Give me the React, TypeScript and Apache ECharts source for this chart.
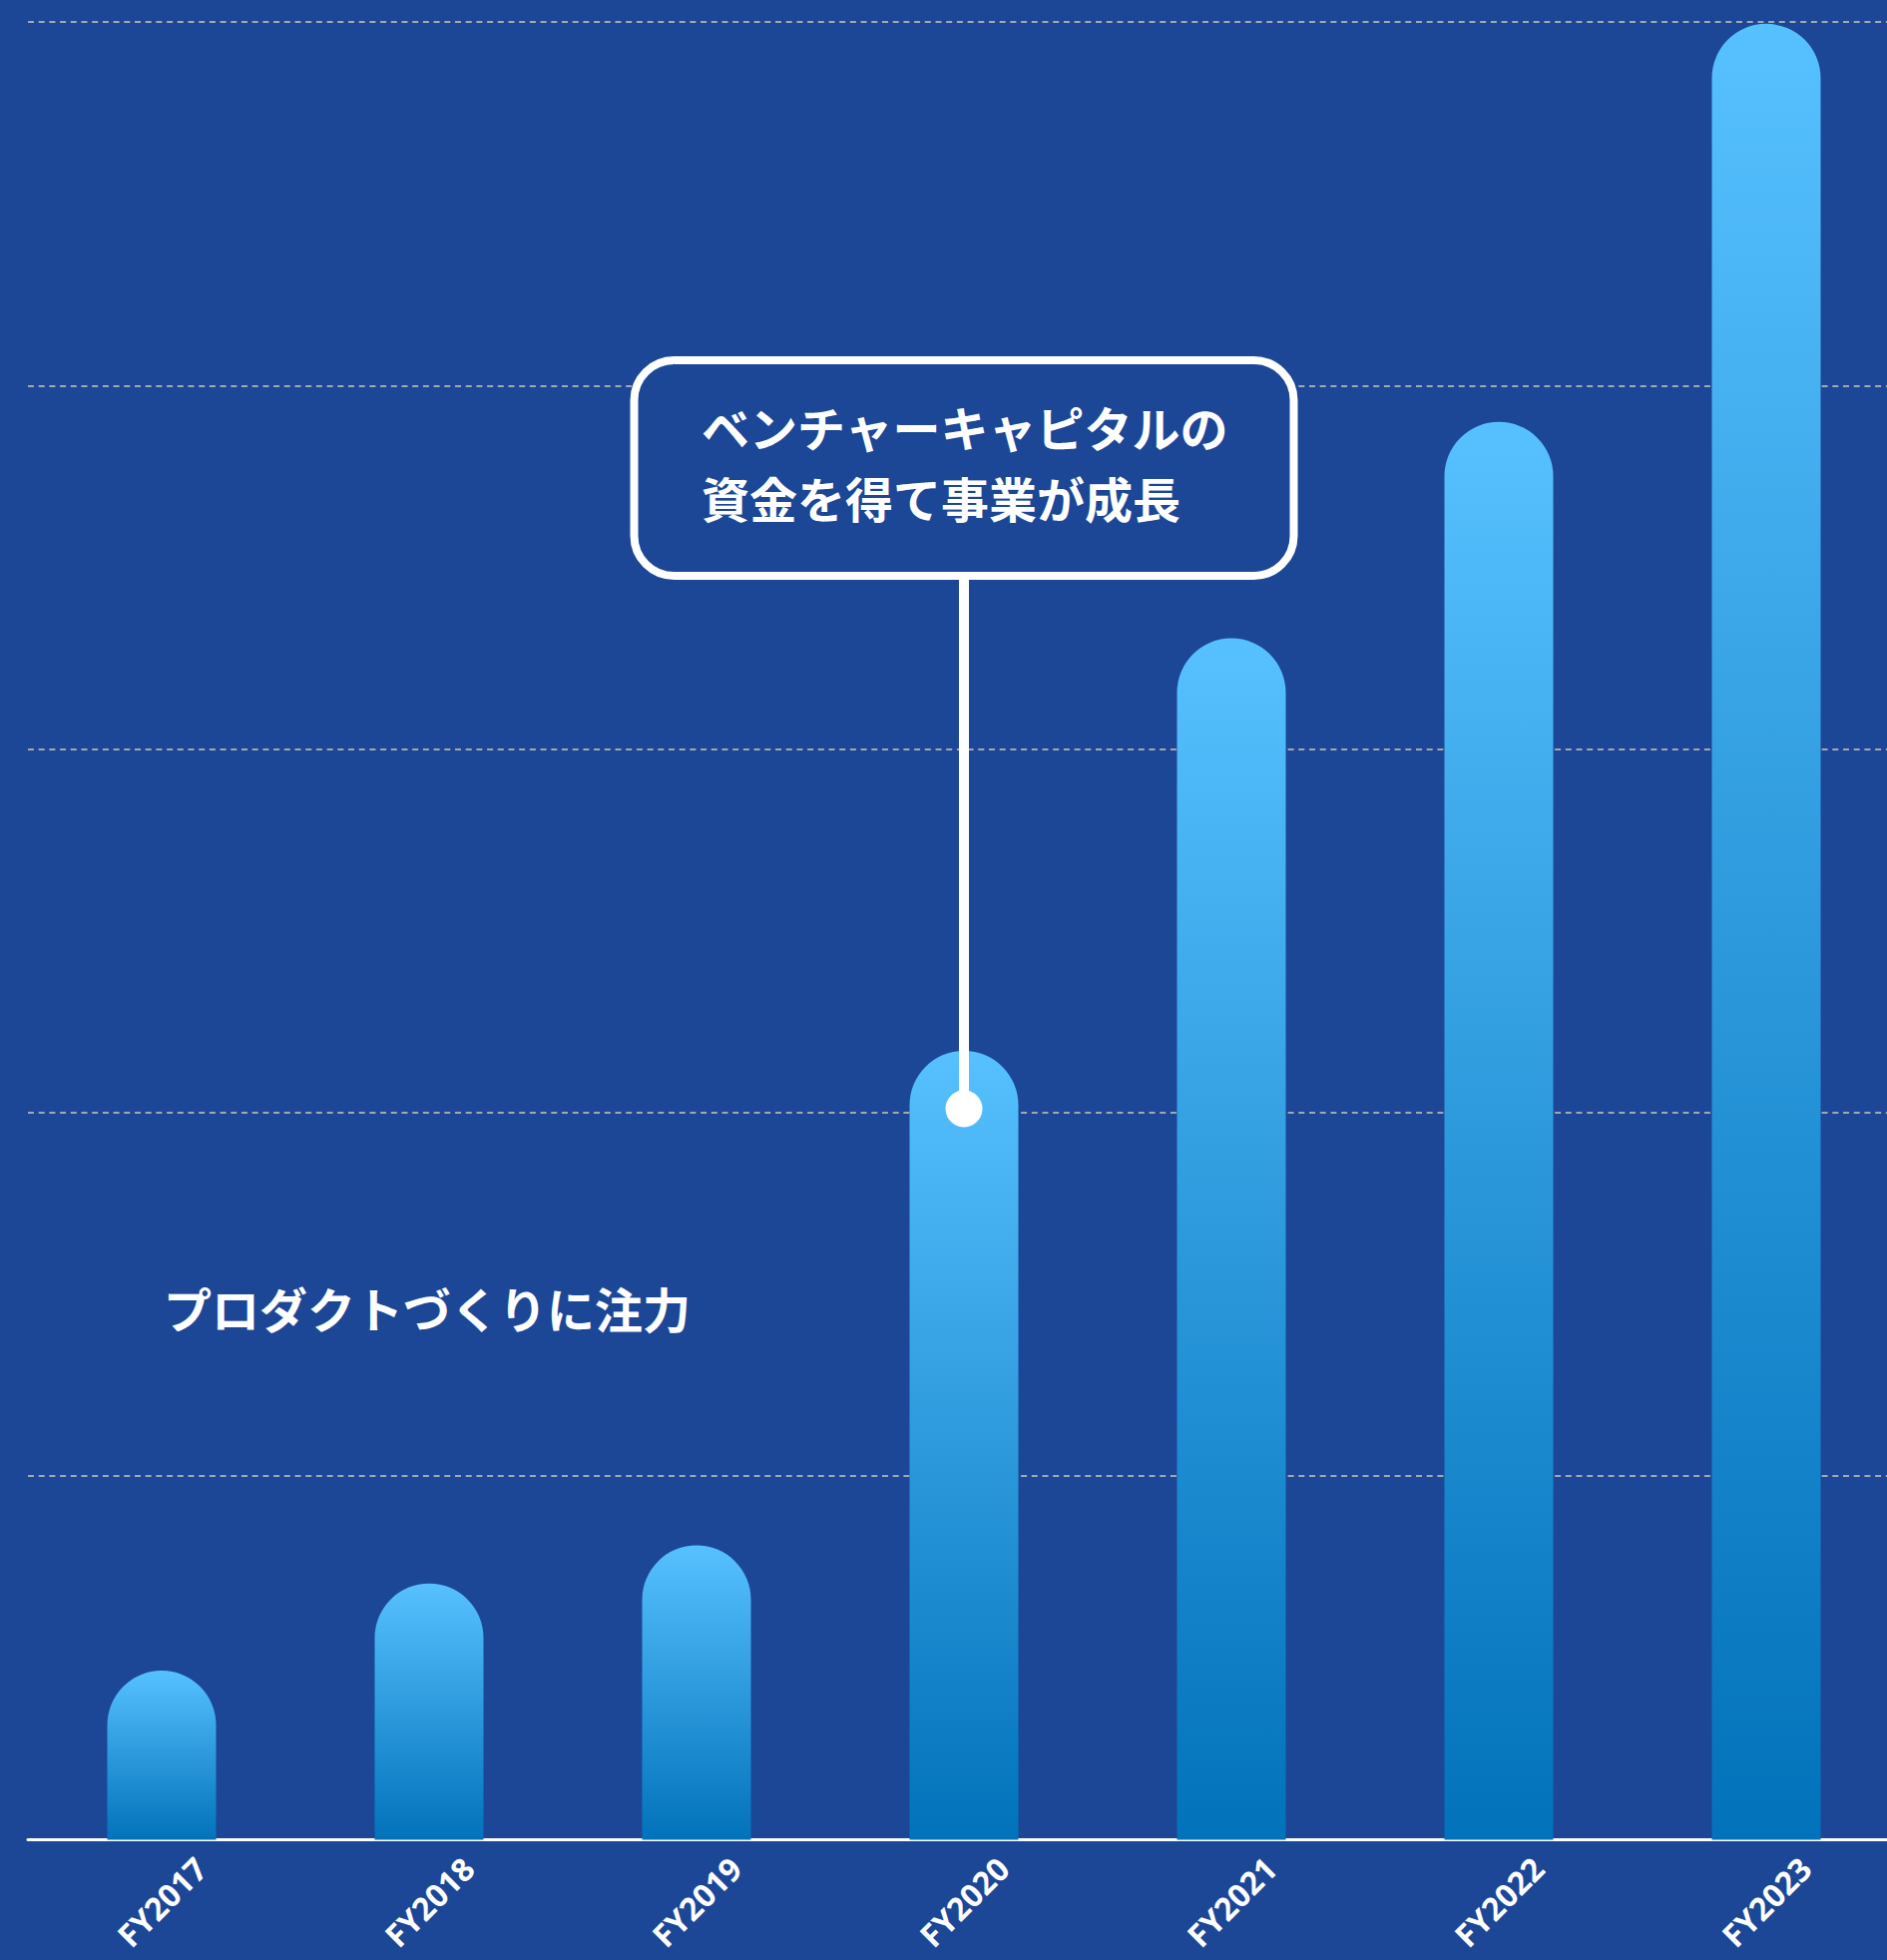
import React, { useEffect, useRef } from "react";
import * as echarts from "echarts";

const categories = ["FY2017", "FY2018", "FY2019", "FY2020", "FY2021", "FY2022", "FY2023"];
const values = [9.3, 14.1, 16.2, 43.4, 66.1, 78.0, 99.9];
const yMin = 0;
const yMax = 100;
const yInterval = 20;
const calloutCategory = "FY2020";
const calloutLines = ["ベンチャーキャピタルの", "資金を得て事業が成長"];
const noteText = "プロダクトづくりに注力";

const BG = "#1c4797";
const JP_FONT = '"Noto Sans CJK JP", "Noto Sans", sans-serif';

export default function App() {
  const ref = useRef<HTMLDivElement>(null);
  useEffect(() => {
    const el = ref.current;
    if (!el) return;
    const chart = echarts.init(el, null, { renderer: "svg" });
    chart.setOption({
      animation: false,
      backgroundColor: BG,
      grid: { left: 28, right: 16, top: 22, bottom: 120.5, outerBoundsMode: "none", containLabel: false },
      xAxis: {
        type: "category",
        data: categories,
        axisLine: { show: true, lineStyle: { color: "#ffffff", width: 3 } },
        axisTick: { show: false },
        splitLine: { show: false },
        axisLabel: {
          interval: 0,
          rotate: 45,
          align: "center",
          verticalAlign: "middle",
          margin: 62,
          lineHeight: 34,
          color: "#ffffff",
          fontSize: 32,
          fontWeight: "bold",
          fontFamily: '"Open Sans", Lato, sans-serif',
        },
      },
      yAxis: {
        type: "value",
        min: yMin,
        max: yMax,
        interval: yInterval,
        axisLine: { show: false },
        axisTick: { show: false },
        axisLabel: { show: false },
        splitLine: { show: true, lineStyle: { color: "#a3a7b0", width: 2, type: [6, 4.7] } },
      },
      series: [
        {
          type: "bar",
          data: values,
          barWidth: 109,
          itemStyle: {
            borderRadius: [55, 55, 0, 0],
            color: new echarts.graphic.LinearGradient(0, 0, 0, 1, [
              { offset: 0, color: "#57c1ff" },
              { offset: 1, color: "#0272ba" },
            ]),
          },
        },
      ],
    });

    const idx = categories.indexOf(calloutCategory);
    const pt = chart.convertToPixel({ gridIndex: 0 }, [idx, values[idx]]) as number[];
    const cx = pt[0];
    const barTop = pt[1];
    const dotY = barTop + 58;
    const boxTop = 361;
    const boxH = 216;
    const boxW = 661;

    const jpStyle = {
      fill: "#ffffff",
      fontSize: 48,
      fontWeight: "bold",
      fontFamily: JP_FONT,
      align: "left",
      verticalAlign: "middle",
    };

    chart.setOption({
      graphic: [
        {
          type: "rect",
          z: 100,
          shape: { x: cx - 5, y: boxTop + boxH, width: 10, height: dotY - (boxTop + boxH) },
          style: { fill: "#ffffff" },
        },
        {
          type: "circle",
          z: 100,
          shape: { cx: cx, cy: dotY, r: 18.5 },
          style: { fill: "#ffffff" },
        },
        {
          type: "rect",
          z: 101,
          shape: { x: cx - boxW / 2, y: boxTop, width: boxW, height: boxH, r: 40 },
          style: { fill: BG, stroke: "#ffffff", lineWidth: 8 },
        },
        {
          type: "text",
          z: 102,
          x: cx - 263,
          y: 427,
          style: { ...jpStyle, text: calloutLines[0] },
        },
        {
          type: "text",
          z: 102,
          x: cx - 263,
          y: 498,
          style: { ...jpStyle, text: calloutLines[1] },
        },
        {
          type: "text",
          z: 102,
          x: 164,
          y: 1310,
          style: { ...jpStyle, text: noteText },
        },
      ],
    });

    return () => {
      chart.dispose();
    };
  }, []);

  return (
    <div
      style={{
        position: "fixed",
        left: 0,
        top: 0,
        width: 1891,
        height: 1964,
        overflow: "hidden",
        background: BG,
      }}
    >
      <div ref={ref} style={{ width: 1920, height: 1964 }} />
    </div>
  );
}
